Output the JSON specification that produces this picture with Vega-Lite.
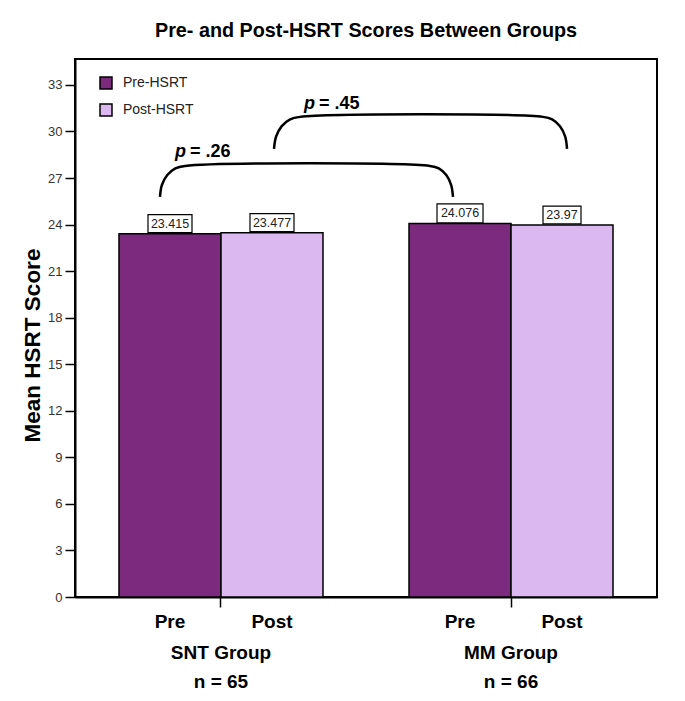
{
  "$schema": "https://vega.github.io/schema/vega-lite/v6.json",
  "width": 582,
  "height": 538,
  "autosize": {"type": "none"},
  "padding": {"left": 75, "top": 59, "right": 28, "bottom": 104},
  "background": "white",
  "title": {
    "text": "Pre- and Post-HSRT Scores Between Groups",
    "fontSize": 19.8,
    "fontWeight": "bold",
    "font": "Liberation Sans",
    "color": "black",
    "anchor": "middle",
    "offset": 18
  },
  "config": {
    "view": {"stroke": "black", "strokeWidth": 2},
    "font": "Liberation Sans"
  },
  "datasets": {
    "scores": [
      {"group": "SNT Group", "phase": "Pre-HSRT", "short": "Pre", "score": 23.415},
      {"group": "SNT Group", "phase": "Post-HSRT", "short": "Post", "score": 23.477},
      {"group": "MM Group", "phase": "Pre-HSRT", "short": "Pre", "score": 24.076},
      {"group": "MM Group", "phase": "Post-HSRT", "short": "Post", "score": 23.97}
    ],
    "brackets": [
      {"b": "pre", "i": 0, "bx": 0.833, "by": 25.78},
      {"b": "pre", "i": 1, "bx": 0.852, "by": 26.55},
      {"b": "pre", "i": 2, "bx": 0.905, "by": 27.19},
      {"b": "pre", "i": 3, "bx": 0.984, "by": 27.62},
      {"b": "pre", "i": 4, "bx": 1.078, "by": 27.78},
      {"b": "pre", "i": 5, "bx": 3.48, "by": 27.78},
      {"b": "pre", "i": 6, "bx": 3.567, "by": 27.62},
      {"b": "pre", "i": 7, "bx": 3.64, "by": 27.19},
      {"b": "pre", "i": 8, "bx": 3.688, "by": 26.55},
      {"b": "pre", "i": 9, "bx": 3.706, "by": 25.78},
      {"b": "post", "i": 0, "bx": 1.951, "by": 28.88},
      {"b": "post", "i": 1, "bx": 1.971, "by": 29.66},
      {"b": "post", "i": 2, "bx": 2.025, "by": 30.33},
      {"b": "post", "i": 3, "bx": 2.109, "by": 30.78},
      {"b": "post", "i": 4, "bx": 2.206, "by": 30.94},
      {"b": "post", "i": 5, "bx": 4.588, "by": 30.94},
      {"b": "post", "i": 6, "bx": 4.678, "by": 30.78},
      {"b": "post", "i": 7, "bx": 4.755, "by": 30.33},
      {"b": "post", "i": 8, "bx": 4.806, "by": 29.66},
      {"b": "post", "i": 9, "bx": 4.824, "by": 28.88}
    ],
    "pvals": [
      {"comparison": "SNT Pre vs MM Pre", "label": "= .26", "px": 1.098, "py": 28.68},
      {"comparison": "SNT Post vs MM Post", "label": "= .45", "px": 2.363, "py": 31.78}
    ]
  },
  "layer": [
    {
      "data": {"name": "scores"},
      "layer": [
        {
          "mark": {"type": "bar", "stroke": "black", "strokeWidth": 1.5},
          "encoding": {
            "x": {
              "field": "group", "type": "nominal", "sort": ["SNT Group", "MM Group"],
              "scale": {"paddingInner": 0.2966, "paddingOuter": 0.1517},
              "axis": {
                "title": null, "labelAngle": 0, "domainColor": "black", "domainWidth": 2,
                "tickSize": 10, "tickColor": "black", "tickWidth": 1.5,
                "labelPadding": 36, "labelFontSize": 19, "labelFontWeight": "bold",
                "labelColor": "black", "labelFont": "Liberation Sans", "labelLineHeight": 29,
                "labelExpr": "datum.value == 'SNT Group' ? ['SNT Group', 'n = 65'] : ['MM Group', 'n = 66']"
              }
            },
            "xOffset": {
              "field": "phase", "type": "nominal", "sort": ["Pre-HSRT", "Post-HSRT"],
              "scale": {"paddingInner": 0, "paddingOuter": 0}
            },
            "y": {
              "field": "score", "type": "quantitative",
              "scale": {"domain": [0, 34.67], "nice": false},
              "axis": {
                "title": "Mean HSRT Score", "values": [0, 3, 6, 9, 12, 15, 18, 21, 24, 27, 30, 33],
                "grid": false, "tickSize": 10, "tickColor": "black", "tickWidth": 1.5,
                "domainColor": "black", "domainWidth": 2,
                "labelFontSize": 13, "labelColor": "#333333", "labelPadding": 3, "labelFont": "Liberation Sans",
                "titleFontSize": 22.5, "titleFontWeight": "bold", "titleColor": "black", "titlePadding": 3,
                "titleFont": "Liberation Sans", "titleY": 286
              }
            },
            "color": {
              "field": "phase", "type": "nominal",
              "scale": {"domain": ["Pre-HSRT", "Post-HSRT"], "range": ["#7b2a7d", "#dcb8f0"]},
              "legend": {
                "title": null, "orient": "none", "legendX": 24, "legendY": 17,
                "symbolType": "square", "symbolSize": 144, "symbolStrokeColor": "black", "symbolStrokeWidth": 1.5,
                "labelFontSize": 14, "labelFont": "Liberation Sans", "labelColor": "#222222",
                "labelOffset": 10, "rowPadding": 9
              }
            }
          }
        },
        {
          "mark": {"type": "point", "filled": true, "fill": "white", "stroke": "black", "strokeWidth": 1.2, "opacity": 1, "yOffset": -10},
          "encoding": {
            "x": {"field": "group", "type": "nominal", "sort": ["SNT Group", "MM Group"], "scale": {"paddingInner": 0.2966, "paddingOuter": 0.1517}},
            "xOffset": {"field": "phase", "type": "nominal", "sort": ["Pre-HSRT", "Post-HSRT"], "scale": {"paddingInner": 0, "paddingOuter": 0}},
            "y": {"field": "score", "type": "quantitative"},
            "shape": {
              "condition": {"test": "datum.score == 23.97", "value": "M-1,-0.47H1V0.47H-1Z"},
              "value": "M-1,-0.41H1V0.41H-1Z"
            },
            "size": {
              "condition": [
                {"test": "datum.score == 23.97", "value": 1444},
                {"test": "datum.score == 24.076", "value": 2116}
              ],
              "value": 1936
            }
          }
        },
        {
          "mark": {"type": "text", "fontSize": 12.5, "color": "#222222", "baseline": "middle", "dy": -10, "font": "Liberation Sans"},
          "encoding": {
            "x": {"field": "group", "type": "nominal", "sort": ["SNT Group", "MM Group"], "scale": {"paddingInner": 0.2966, "paddingOuter": 0.1517}},
            "xOffset": {"field": "phase", "type": "nominal", "sort": ["Pre-HSRT", "Post-HSRT"], "scale": {"paddingInner": 0, "paddingOuter": 0}},
            "y": {"field": "score", "type": "quantitative"},
            "text": {"field": "score", "type": "nominal"}
          }
        },
        {
          "mark": {"type": "text", "fontSize": 19, "fontWeight": "bold", "color": "black", "baseline": "middle", "dy": 25, "font": "Liberation Sans"},
          "encoding": {
            "x": {"field": "group", "type": "nominal", "sort": ["SNT Group", "MM Group"], "scale": {"paddingInner": 0.2966, "paddingOuter": 0.1517}},
            "xOffset": {"field": "phase", "type": "nominal", "sort": ["Pre-HSRT", "Post-HSRT"], "scale": {"paddingInner": 0, "paddingOuter": 0}},
            "y": {"datum": 0, "type": "quantitative"},
            "text": {"field": "short", "type": "nominal"}
          }
        }
      ]
    },
    {
      "layer": [
        {
          "data": {"name": "brackets"},
          "mark": {"type": "line", "interpolate": "catmull-rom", "color": "black", "strokeWidth": 2.5},
          "encoding": {
            "x": {"field": "bx", "type": "quantitative", "scale": {"domain": [0, 5.706], "nice": false, "zero": false}, "axis": null},
            "y": {"field": "by", "type": "quantitative"},
            "detail": {"field": "b", "type": "nominal"},
            "order": {"field": "i", "type": "quantitative"}
          }
        },
        {
          "data": {"name": "pvals"},
          "mark": {"type": "text", "text": "p", "align": "right", "baseline": "middle", "fontStyle": "italic", "fontWeight": "bold", "fontSize": 18, "dx": -1, "color": "black", "font": "Liberation Sans"},
          "encoding": {
            "x": {"field": "px", "type": "quantitative", "scale": {"domain": [0, 5.706], "nice": false, "zero": false}, "axis": null},
            "y": {"field": "py", "type": "quantitative"}
          }
        },
        {
          "data": {"name": "pvals"},
          "mark": {"type": "text", "align": "left", "baseline": "middle", "fontWeight": "bold", "fontSize": 18, "dx": 3, "color": "black", "font": "Liberation Sans"},
          "encoding": {
            "x": {"field": "px", "type": "quantitative", "scale": {"domain": [0, 5.706], "nice": false, "zero": false}, "axis": null},
            "y": {"field": "py", "type": "quantitative"},
            "text": {"field": "label", "type": "nominal"}
          }
        }
      ]
    }
  ],
  "resolve": {"scale": {"x": "independent"}}
}
